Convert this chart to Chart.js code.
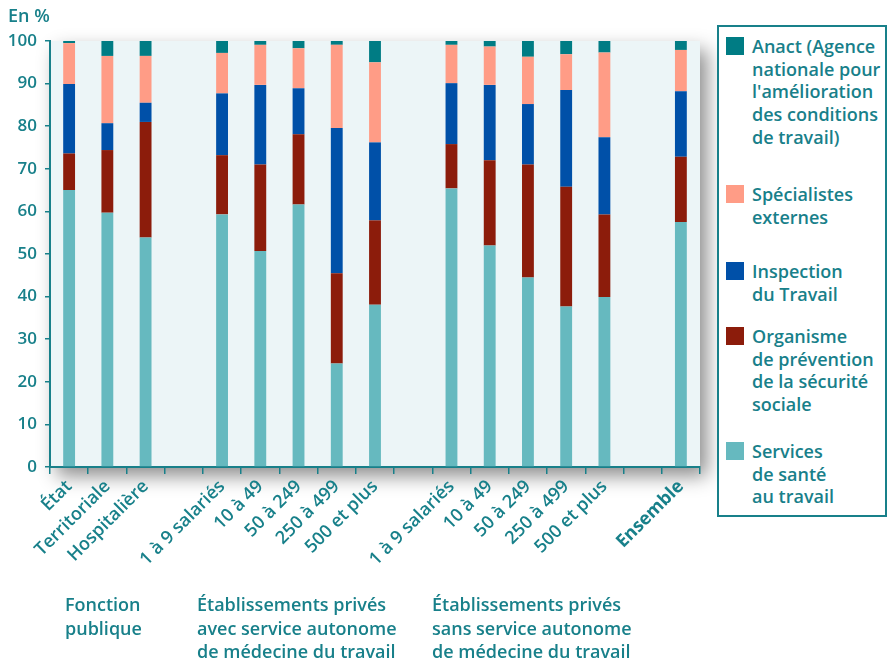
<!DOCTYPE html>
<html lang="fr">
<head>
<meta charset="utf-8">
<script src="https://cdn.jsdelivr.net/npm/chart.js@4.4.1/dist/chart.umd.min.js"></script>
<style>
  html, body { margin: 0; padding: 0; background: #fff; }
  #wrap { position: relative; width: 888px; height: 662px; font-family: "Open Sans", sans-serif; color: #18808a; }
  #wrap canvas { position: absolute; left: 0; top: 0; }
  .txt { position: absolute; font-size: 18px; font-weight: 600; line-height: 23.5px; white-space: nowrap; }
  #legend { position: absolute; left: 717px; top: 25px; width: 166px; height: 488px; border: 2px solid #18808a; background: #fff; }
  .item { position: absolute; left: 33px; font-size: 18px; font-weight: 600; line-height: 22.7px; white-space: nowrap; }
  .sq { position: absolute; left: -26px; top: 2px; width: 18px; height: 18px; }
</style>
</head>
<body>
<div id="wrap">
  <canvas id="chart" width="888" height="662"></canvas>
  <div class="txt" style="left:8px;top:4px;">En %</div>
  <div class="txt" style="left:65px;top:593px;">Fonction<br>publique</div>
  <div class="txt" style="left:197px;top:593px;">Établissements privés<br>avec service autonome<br>de médecine du travail</div>
  <div class="txt" style="left:432px;top:593px;">Établissements privés<br>sans service autonome<br>de médecine du travail</div>
  <div id="legend"></div>
</div>
<script>
const categories = ['État', 'Territoriale', 'Hospitalière', '',
  '1 à 9 salariés', '10 à 49', '50 à 249', '250 à 499', '500 et plus', '',
  '1 à 9 salariés', '10 à 49', '50 à 249', '250 à 499', '500 et plus', '',
  'Ensemble'];

const services     = [65.0, 59.7, 53.9, null, 59.3, 50.7, 61.6, 24.3, 38.1, null, 65.4, 52.0, 44.5, 37.7, 39.9, null, 57.5];
const organisme    = [ 8.6, 14.7, 27.1, null, 13.9, 20.3, 16.5, 21.2, 19.8, null, 10.4, 20.0, 26.5, 28.1, 19.4, null, 15.3];
const inspection   = [16.3,  6.3,  4.5, null, 14.5, 18.7, 10.8, 34.1, 18.3, null, 14.3, 17.7, 14.2, 22.7, 18.1, null, 15.4];
const specialistes = [ 9.6, 15.8, 11.0, null,  9.5,  9.4,  9.4, 19.5, 18.8, null,  9.0,  9.0, 11.1,  8.4, 19.9, null,  9.7];
const anact        = [ 0.5,  3.5,  3.5, null,  2.8,  0.9,  1.7,  0.9,  5.0, null,  0.9,  1.3,  3.7,  3.1,  2.7, null,  2.1];

const yTicks = [0, 10, 20, 30, 40, 50, 60, 70, 80, 90, 100];

const teal = '#18808a';
const series = [
  { label: 'Services\nde santé\nau travail', data: services, color: '#66b9bf', top: 440 },
  { label: 'Organisme\nde prévention\nde la sécurité\nsociale', data: organisme, color: '#8c1c0b', top: 325 },
  { label: 'Inspection\ndu Travail', data: inspection, color: '#0050a8', top: 260 },
  { label: 'Spécialistes\nexternes', data: specialistes, color: '#ff9c86', top: 183 },
  { label: "Anact (Agence\nnationale pour\nl'amélioration\ndes conditions\nde travail)", data: anact, color: '#007c84', top: 35 }
];

// legend (html, top item first)
const legend = document.getElementById('legend');
series.forEach(s => {
  const d = document.createElement('div');
  d.className = 'item';
  d.style.top = (s.top - 27) + 'px';
  d.innerHTML = '<span class="sq" style="background:' + s.color + '"></span>' + s.label.replace(/\n/g, '<br>');
  legend.appendChild(d);
});

const plotBg = {
  id: 'plotBg',
  beforeDraw(chart) {
    const a = chart.chartArea, ctx = chart.ctx;
    ctx.save();
    ctx.shadowColor = 'rgba(0,0,0,0.45)';
    ctx.shadowBlur = 18;
    ctx.shadowOffsetX = 7;
    ctx.shadowOffsetY = 9;
    ctx.fillStyle = '#ecf5f7';
    ctx.fillRect(a.left, a.top, a.right - a.left, a.bottom - a.top);
    ctx.restore();
  }
};

new Chart(document.getElementById('chart'), {
  type: 'bar',
  data: {
    labels: categories,
    datasets: series.map(s => ({
      label: s.label,
      data: s.data,
      backgroundColor: s.color,
      barPercentage: 0.31,
      categoryPercentage: 1
    }))
  },
  options: {
    responsive: false,
    animation: false,
    devicePixelRatio: 1,
    layout: { padding: { top: 41, right: 188, left: 0, bottom: 0 } },
    plugins: { legend: { display: false }, tooltip: { enabled: false } },
    scales: {
      x: {
        stacked: true,
        afterFit(scale) { scale.height = 195; },
        grid: { drawOnChartArea: false, tickLength: 7, color: teal, lineWidth: 1.5 },
        border: { color: teal, width: 2 },
        ticks: {
          autoSkip: false,
          minRotation: 45,
          maxRotation: 45,
          padding: 2,
          color: teal,
          font: ctx => ({ family: 'Open Sans', size: 18, weight: ctx.index === 16 ? 'bold' : '600' })
        }
      },
      y: {
        stacked: true,
        min: 0,
        max: 100,
        afterFit(scale) { scale.width = 50; },
        afterBuildTicks(scale) { scale.ticks = yTicks.map(v => ({ value: v })); },
        grid: { drawOnChartArea: false, tickLength: 5, color: teal, lineWidth: 1.5 },
        border: { color: teal, width: 2 },
        ticks: {
          padding: 8,
          color: teal,
          font: { family: 'Open Sans', size: 17, weight: '600' }
        }
      }
    }
  },
  plugins: [plotBg]
});
</script>
</body>
</html>
